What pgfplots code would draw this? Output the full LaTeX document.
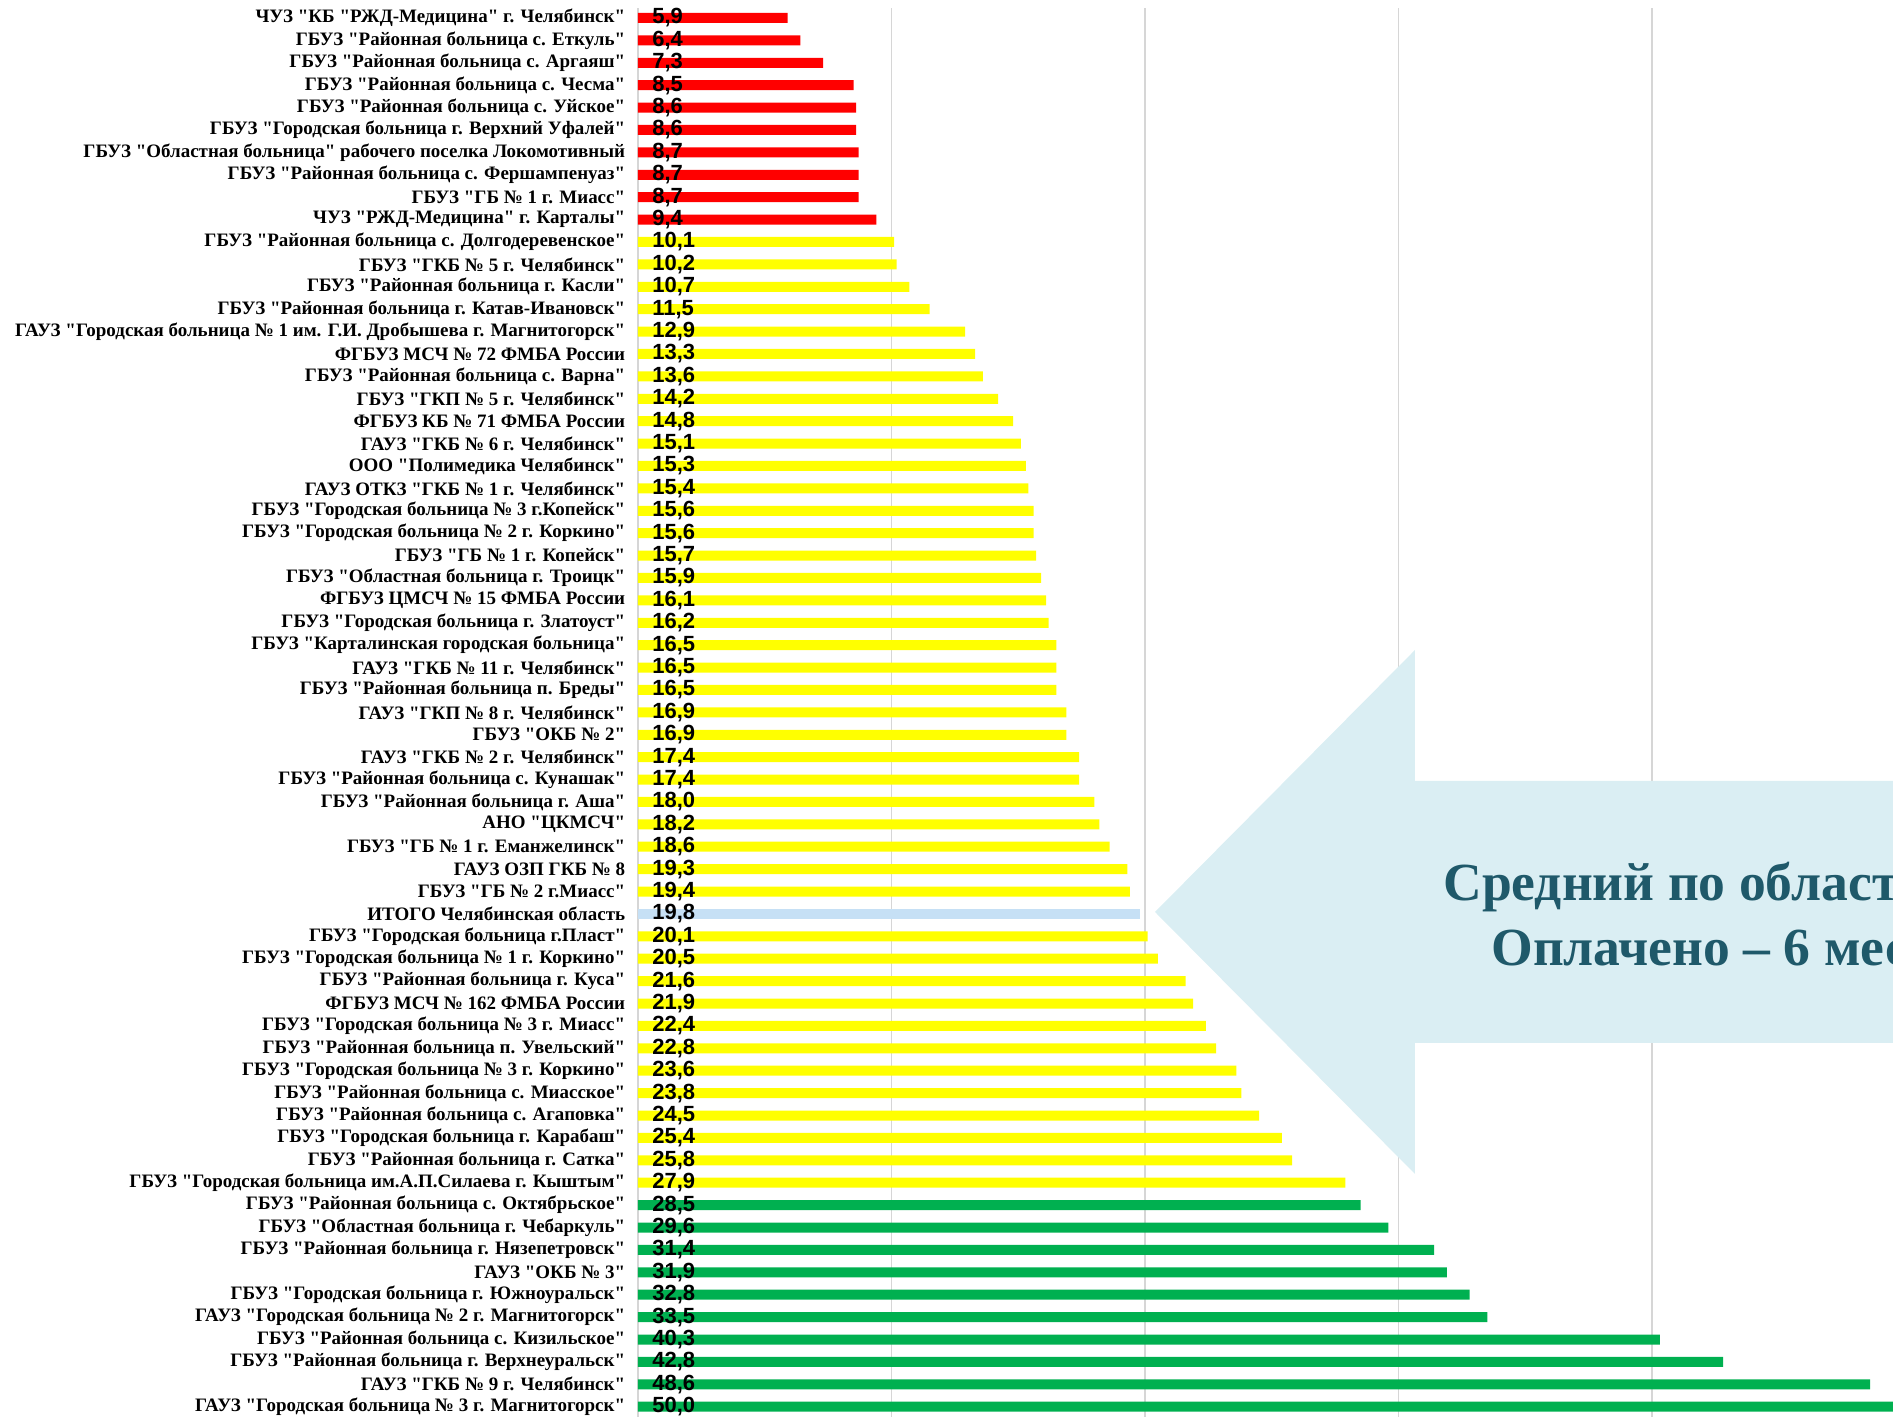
\documentclass[border=0pt]{standalone}
\usepackage{fontspec}
\setmainfont{Liberation Serif}[Ligatures=TeXOff]
\newfontfamily\numfont{Liberation Sans}[Ligatures=TeXOff]
\usepackage{graphicx}
\usepackage{pgfplots}
\pgfplotsset{compat=1.18}
\definecolor{barred}{HTML}{FF0000}
\definecolor{baryel}{HTML}{FFFF00}
\definecolor{bargrn}{HTML}{00B050}
\definecolor{barblu}{HTML}{C6E0F5}
\definecolor{arrowfill}{HTML}{DAEEF3}
\definecolor{arrowtext}{HTML}{1F596A}
\begin{document}
\begin{tikzpicture}
\path[use as bounding box] (0,0) rectangle (378.6mm,283.4mm);
\clip (0,0) rectangle (378.6mm,283.4mm);
\begin{axis}[
  at={(127.6mm,0)}, anchor=south west,
  scale only axis, width=251mm, height=281.8mm,
  xmin=0, xmax=49.5, ymin=-0.446, ymax=62.46, y dir=reverse,
  axis line style={draw=none},
  xtick={0,10,20,30,40}, xticklabels={},
  xmajorgrids, major grid style={draw=black!16, line width=0.35mm},
  ytick={0,...,62},
  tick style={draw=none},
  yticklabel style={font=\bfseries\fontsize{10.8}{11}\selectfont, inner sep=0pt, xshift=-2.5mm},
  yticklabels={
{ЧУЗ "КБ "РЖД-Медицина" г. Челябинск"},
{ГБУЗ "Районная больница с. Еткуль"},
{ГБУЗ "Районная больница с. Аргаяш"},
{ГБУЗ "Районная больница с. Чесма"},
{ГБУЗ "Районная больница с. Уйское"},
{ГБУЗ "Городская больница г. Верхний Уфалей"},
{ГБУЗ "Областная больница" рабочего поселка Локомотивный},
{ГБУЗ "Районная больница с. Фершампенуаз"},
{ГБУЗ "ГБ № 1 г. Миасс"},
{ЧУЗ "РЖД-Медицина" г. Карталы"},
{ГБУЗ "Районная больница с. Долгодеревенское"},
{ГБУЗ "ГКБ № 5 г. Челябинск"},
{ГБУЗ "Районная больница г. Касли"},
{ГБУЗ "Районная больница г. Катав-Ивановск"},
{ГАУЗ "Городская больница № 1 им. Г.И. Дробышева г. Магнитогорск"},
{ФГБУЗ МСЧ № 72 ФМБА России},
{ГБУЗ "Районная больница с. Варна"},
{ГБУЗ "ГКП № 5 г. Челябинск"},
{ФГБУЗ КБ № 71 ФМБА России},
{ГАУЗ "ГКБ № 6 г. Челябинск"},
{ООО "Полимедика Челябинск"},
{ГАУЗ ОТКЗ "ГКБ № 1 г. Челябинск"},
{ГБУЗ "Городская больница № 3 г.Копейск"},
{ГБУЗ "Городская больница № 2 г. Коркино"},
{ГБУЗ "ГБ № 1 г. Копейск"},
{ГБУЗ "Областная больница г. Троицк"},
{ФГБУЗ ЦМСЧ № 15 ФМБА России},
{ГБУЗ "Городская больница г. Златоуст"},
{ГБУЗ "Карталинская городская больница"},
{ГАУЗ "ГКБ № 11 г. Челябинск"},
{ГБУЗ "Районная больница п. Бреды"},
{ГАУЗ "ГКП № 8 г. Челябинск"},
{ГБУЗ "ОКБ № 2"},
{ГАУЗ "ГКБ № 2 г. Челябинск"},
{ГБУЗ "Районная больница с. Кунашак"},
{ГБУЗ "Районная больница г. Аша"},
{АНО "ЦКМСЧ"},
{ГБУЗ "ГБ № 1 г. Еманжелинск"},
{ГАУЗ ОЗП ГКБ № 8},
{ГБУЗ "ГБ № 2 г.Миасс"},
{ИТОГО Челябинская область},
{ГБУЗ "Городская больница г.Пласт"},
{ГБУЗ "Городская больница № 1 г. Коркино"},
{ГБУЗ "Районная больница г. Куса"},
{ФГБУЗ МСЧ № 162 ФМБА России},
{ГБУЗ "Городская больница № 3 г. Миасс"},
{ГБУЗ "Районная больница п. Увельский"},
{ГБУЗ "Городская больница № 3 г. Коркино"},
{ГБУЗ "Районная больница с. Миасское"},
{ГБУЗ "Районная больница с. Агаповка"},
{ГБУЗ "Городская больница г. Карабаш"},
{ГБУЗ "Районная больница г. Сатка"},
{ГБУЗ "Городская больница им.А.П.Силаева г. Кыштым"},
{ГБУЗ "Районная больница с. Октябрьское"},
{ГБУЗ "Областная больница г. Чебаркуль"},
{ГБУЗ "Районная больница г. Нязепетровск"},
{ГАУЗ "ОКБ № 3"},
{ГБУЗ "Городская больница г. Южноуральск"},
{ГАУЗ "Городская больница № 2 г. Магнитогорск"},
{ГБУЗ "Районная больница с. Кизильское"},
{ГБУЗ "Районная больница г. Верхнеуральск"},
{ГАУЗ "ГКБ № 9 г. Челябинск"},
{ГАУЗ "Городская больница № 3 г. Магнитогорск"}
  },
]
\pgfplotsset{mybar/.style={xbar, bar shift=0pt, bar width=2.0mm, draw=none}}
\addplot[mybar, fill=barred] coordinates {
(5.9,0) (6.4,1) (7.3,2) (8.5,3) (8.6,4) (8.6,5) (8.7,6) (8.7,7) (8.7,8) (9.4,9)};
\addplot[mybar, fill=baryel] coordinates {
(10.1,10) (10.2,11) (10.7,12) (11.5,13) (12.9,14) (13.3,15) (13.6,16) (14.2,17) (14.8,18) (15.1,19)
(15.3,20) (15.4,21) (15.6,22) (15.6,23) (15.7,24) (15.9,25) (16.1,26) (16.2,27) (16.5,28) (16.5,29)
(16.5,30) (16.9,31) (16.9,32) (17.4,33) (17.4,34) (18.0,35) (18.2,36) (18.6,37) (19.3,38) (19.4,39)
(20.1,41) (20.5,42) (21.6,43) (21.9,44) (22.4,45) (22.8,46) (23.6,47) (23.8,48) (24.5,49) (25.4,50)
(25.8,51) (27.9,52)};
\addplot[mybar, fill=barblu] coordinates {(19.8,40)};
\addplot[mybar, fill=bargrn] coordinates {
(28.5,53) (29.6,54) (31.4,55) (31.9,56) (32.8,57) (33.5,58) (40.3,59) (42.8,60) (48.6,61) (50.0,62)};
% value labels at the base of each bar
\addplot[draw=none, mark=none, point meta=explicit,
  nodes near coords={\pgfmathprintnumber[fixed,fixed zerofill,precision=1,use comma,assume math mode=true]{\pgfplotspointmeta}},
  every node near coord/.append style={anchor=west, inner sep=0pt, xshift=2.8mm, text=black,
    font=\numfont\bfseries\fontsize{12.5}{12.5}\selectfont}]
coordinates {
(0,0) [5.9] (0,1) [6.4] (0,2) [7.3] (0,3) [8.5] (0,4) [8.6] (0,5) [8.6] (0,6) [8.7] (0,7) [8.7] (0,8) [8.7] (0,9) [9.4]
(0,10) [10.1] (0,11) [10.2] (0,12) [10.7] (0,13) [11.5] (0,14) [12.9] (0,15) [13.3] (0,16) [13.6] (0,17) [14.2] (0,18) [14.8] (0,19) [15.1]
(0,20) [15.3] (0,21) [15.4] (0,22) [15.6] (0,23) [15.6] (0,24) [15.7] (0,25) [15.9] (0,26) [16.1] (0,27) [16.2] (0,28) [16.5] (0,29) [16.5]
(0,30) [16.5] (0,31) [16.9] (0,32) [16.9] (0,33) [17.4] (0,34) [17.4] (0,35) [18.0] (0,36) [18.2] (0,37) [18.6] (0,38) [19.3] (0,39) [19.4]
(0,40) [19.8] (0,41) [20.1] (0,42) [20.5] (0,43) [21.6] (0,44) [21.9] (0,45) [22.4] (0,46) [22.8] (0,47) [23.6] (0,48) [23.8] (0,49) [24.5]
(0,50) [25.4] (0,51) [25.8] (0,52) [27.9] (0,53) [28.5] (0,54) [29.6] (0,55) [31.4] (0,56) [31.9] (0,57) [32.8] (0,58) [33.5] (0,59) [40.3]
(0,60) [42.8] (0,61) [48.6] (0,62) [50.0]};
\end{axis}
% callout arrow (pixel coordinates from the top-left corner)
\begin{scope}[shift={(0,283.4mm)}, x=0.2mm, y=-0.2mm]
\fill[arrowfill] (1155,912) -- (1415,650) -- (1415,781) -- (1910,781) -- (1910,1043) -- (1415,1043) -- (1415,1174) -- cycle;
\node[anchor=base west, inner sep=0pt, text=arrowtext, font=\bfseries\fontsize{30.5}{31}\selectfont] at (1443,901) {Средний по области};
\node[anchor=base west, inner sep=0pt, text=arrowtext, font=\bfseries\fontsize{30.5}{31}\selectfont] at (1491,966) {Оплачено – 6 месяцев};
\end{scope}
\end{tikzpicture}
\end{document}
